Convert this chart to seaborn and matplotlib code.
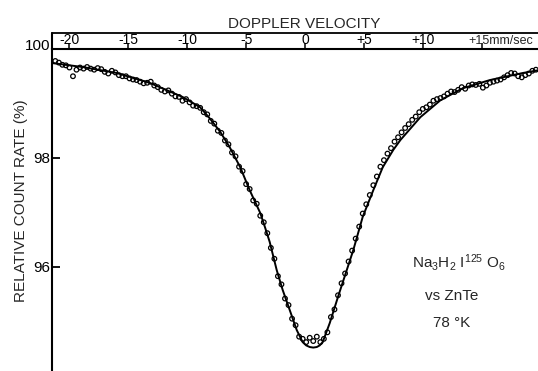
import matplotlib
matplotlib.use("Agg")
import matplotlib.pyplot as plt
import seaborn as sns
from matplotlib.lines import Line2D
from matplotlib.transforms import ScaledTranslation, blended_transform_factory

# ---- data ----
vel = [-21.2, -20.9, -20.6, -20.3, -20.0, -19.7, -19.4, -19.1, -18.8, -18.5,
       -18.2, -17.9, -17.6, -17.3, -17.0, -16.7, -16.4, -16.1, -15.8, -15.5,
       -15.2, -14.9, -14.6, -14.3, -14.0, -13.7, -13.4, -13.1, -12.8, -12.5,
       -12.2, -11.9, -11.6, -11.3, -11.0, -10.7, -10.4, -10.1, -9.8, -9.5,
       -9.2, -8.9, -8.6, -8.3, -8.0, -7.7, -7.4, -7.1, -6.8, -6.5,
       -6.2, -5.9, -5.6, -5.3, -5.0, -4.7, -4.4, -4.1, -3.8, -3.5,
       -3.2, -2.9, -2.6, -2.3, -2.0, -1.7, -1.4, -1.1, -0.8, -0.5,
       -0.2, 0.1, 0.4, 0.7, 1.0, 1.3, 1.6, 1.9, 2.2, 2.5,
       2.8, 3.1, 3.4, 3.7, 4.0, 4.3, 4.6, 4.9, 5.2, 5.5,
       5.8, 6.1, 6.4, 6.7, 7.0, 7.3, 7.6, 7.9, 8.2, 8.5,
       8.8, 9.1, 9.4, 9.7, 10.0, 10.3, 10.6, 10.9, 11.2, 11.5,
       11.8, 12.1, 12.4, 12.7, 13.0, 13.3, 13.6, 13.9, 14.2, 14.5,
       14.8, 15.1, 15.4, 15.7, 16.0, 16.3, 16.6, 16.9, 17.2, 17.5,
       17.8, 18.1, 18.4, 18.7, 19.0, 19.3, 19.6]

rate = [99.78, 99.75, 99.71, 99.70, 99.66, 99.50, 99.62, 99.66, 99.64, 99.67,
        99.64, 99.62, 99.65, 99.63, 99.58, 99.55, 99.60, 99.57, 99.52, 99.50,
        99.50, 99.46, 99.44, 99.43, 99.40, 99.37, 99.38, 99.40, 99.33, 99.30,
        99.25, 99.22, 99.24, 99.18, 99.13, 99.12, 99.05, 99.08, 99.02, 98.96,
        98.95, 98.92, 98.84, 98.80, 98.68, 98.63, 98.50, 98.46, 98.32, 98.25,
        98.10, 98.03, 97.84, 97.76, 97.52, 97.43, 97.22, 97.16, 96.94, 96.82,
        96.62, 96.35, 96.15, 95.83, 95.68, 95.42, 95.30, 95.05, 94.93, 94.72,
        94.68, 94.62, 94.70, 94.64, 94.72, 94.62, 94.68, 94.80, 95.08, 95.22,
        95.48, 95.70, 95.88, 96.10, 96.30, 96.52, 96.74, 96.98, 97.15, 97.32,
        97.50, 97.66, 97.84, 97.96, 98.08, 98.18, 98.30, 98.38, 98.47, 98.55,
        98.62, 98.70, 98.76, 98.84, 98.90, 98.93, 98.98, 99.05, 99.08, 99.10,
        99.13, 99.18, 99.22, 99.21, 99.25, 99.30, 99.27, 99.33, 99.35, 99.34,
        99.36, 99.29, 99.33, 99.38, 99.40, 99.42, 99.44, 99.48, 99.52, 99.56,
        99.55, 99.50, 99.48, 99.52, 99.55, 99.60, 99.62]

fit_v = [-21.4, -18.9, -16.0, -13.2, -10.4, -8.9, -8.1, -7.2, -6.4, -5.5,
         -4.7, -3.8, -3.4, -3.0, -2.4, -1.9, -1.3, -0.7, -0.2, 0.1,
         0.4, 0.7, 1.0, 1.25, 1.5, 2.1, 2.8, 4.1, 4.9, 5.8,
         6.6, 7.5, 8.1, 9.8, 11.5, 13.4, 15.7, 18.5, 19.8]
fit_y = [99.74, 99.67, 99.56, 99.38, 99.12, 98.93, 98.73, 98.48, 98.20, 97.83,
         97.41, 96.99, 96.73, 96.46, 95.94, 95.58, 95.21, 94.84, 94.62, 94.56,
         94.53, 94.52, 94.53, 94.56, 94.62, 94.97, 95.45, 96.31, 96.92, 97.41,
         97.83, 98.15, 98.33, 98.75, 99.06, 99.28, 99.43, 99.56, 99.61]

x_ticks = [-20, -15, -10, -5, 0, 5, 10, 15]
x_tick_labels = ["-20", "-15", "-10", "-5", "0", "+5", "+10", ""]
y_ticks = [96, 98, 100]
y_tick_labels = ["96", "98", "100"]

# ---- style ----
sns.set_style("white")
plt.rcParams["font.family"] = ["Liberation Sans", "DejaVu Sans"]
plt.rcParams["mathtext.default"] = "regular"

W, H = 538, 371
fig = plt.figure(figsize=(W / 100, H / 100), dpi=100)
L = 52 / W
ax = fig.add_axes([L, 0, 1 - L, 322 / H])

sns.lineplot(x=fit_v, y=fit_y, color="black", lw=1.4, ax=ax)
sns.scatterplot(x=vel, y=rate, marker="o", s=11, color="black",
                edgecolor="black", linewidth=0.9, ax=ax, zorder=3)
ax.collections[-1].set_facecolor("none")

ax.set_xlim(-21.48, 19.78)
ax.set_ylim(94.09, 100)
ax.set_xlabel("")
ax.set_ylabel("")

for s in ("right", "bottom"):
    ax.spines[s].set_visible(False)
for s in ("left", "top"):
    ax.spines[s].set_linewidth(1.5)
    ax.spines[s].set_color("black")

ax.xaxis.tick_top()
ax.set_xticks(x_ticks, labels=x_tick_labels)
ax.tick_params(axis="x", top=True, bottom=False, direction="out",
               length=4.3, width=1.1, pad=-3, labelsize=10, colors="black")
ax.set_yticks(y_ticks, labels=y_tick_labels)
ax.tick_params(axis="y", left=True, direction="in", length=6, width=1.3,
               pad=1.5, labelsize=11, colors="black")
for lbl in ax.get_yticklabels():
    if lbl.get_text() == "100":
        lbl.set_transform(lbl.get_transform() +
                          ScaledTranslation(0, 5 / 100, fig.dpi_scale_trans))

trans = blended_transform_factory(ax.transData, ax.transAxes)
ax.text(13.9, 1 + 5 / 322, "+15mm/sec", transform=trans, ha="left",
        va="baseline", fontsize=9, clip_on=False)

# strip box above the plot
ytop = 1 - 33 / H
fig.add_artist(Line2D([L, 1], [ytop, ytop], color="black", lw=1.3,
                      transform=fig.transFigure))
fig.add_artist(Line2D([L, L], [322 / H, ytop], color="black", lw=1.5,
                      transform=fig.transFigure))

fig.text(304 / W, 1 - 28 / H, "DOPPLER VELOCITY", ha="center",
         va="baseline", fontsize=11)
fig.text(21 / W, 1 - 201 / H, "RELATIVE COUNT RATE (%)", rotation=90,
         ha="center", va="center", fontsize=11)

fig.text(459 / W, 1 - 268 / H, r"Na$_3$H$_2$ I$^{125}$ O$_6$", ha="center",
         va="baseline", fontsize=11)
fig.text(452 / W, 1 - 300 / H, "vs ZnTe", ha="center", va="baseline",
         fontsize=11)
fig.text(452 / W, 1 - 327 / H, "78 °K", ha="center", va="baseline",
         fontsize=11)

fig.savefig("out.png", dpi=100, facecolor="white")
